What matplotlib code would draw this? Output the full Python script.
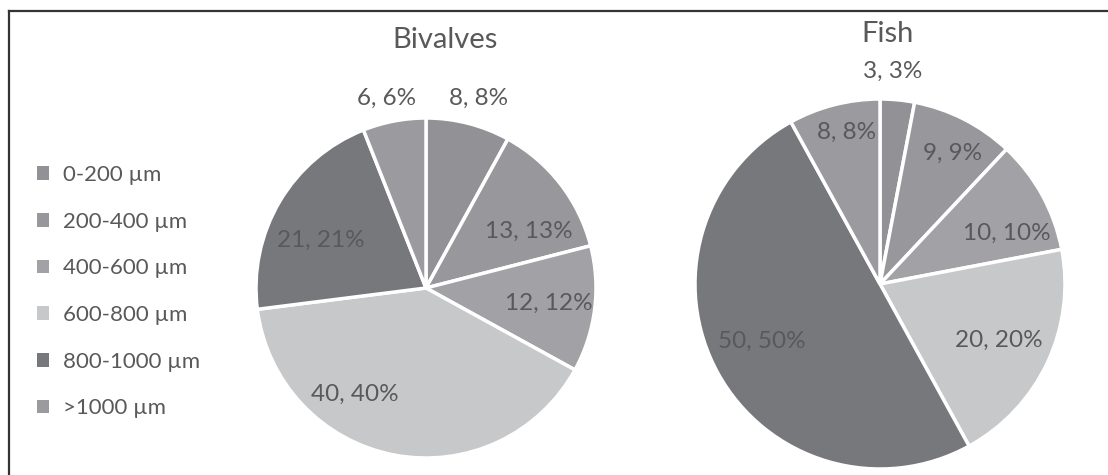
import numpy as np
import matplotlib.pyplot as plt
from matplotlib.lines import Line2D
from matplotlib.patches import Patch

plt.rcParams['font.family'] = ['Lato', 'DejaVu Sans']

# size classes and counts per group
size_classes = ['0-200 µm', '200-400 µm', '400-600 µm', '600-800 µm', '800-1000 µm', '>1000 µm']
bivalves = [8, 13, 12, 40, 21, 6]
fish = [3, 9, 10, 20, 50, 8]

colors = ['#929296', '#98989c', '#a2a2a6', '#c7c8ca', '#77787c', '#9b9b9f']
text_color = '#595959'

W, H = 1108, 475
fig = plt.figure(figsize=(W / 100, H / 100), dpi=100)

# frame lines along the top and left edge
fig.add_artist(Line2D([9 / W, 9 / W], [0, 1 - 11 / H], color='#333333', lw=1.6))
fig.add_artist(Line2D([9 / W, 1], [1 - 11 / H, 1 - 11 / H], color='#333333', lw=1.6))


def draw_pie(cx, cy, r, values, title, title_xy, label_r, label_da):
    ax = fig.add_axes([(cx - r) / W, 1 - (cy + r) / H, 2 * r / W, 2 * r / H])
    wedges, _ = ax.pie(values, colors=colors, startangle=90, counterclock=False,
                       wedgeprops=dict(edgecolor='white', linewidth=2.5))
    ax.set_xlim(-1, 1)
    ax.set_ylim(-1, 1)
    ax.set_aspect('equal')
    ax.axis('off')
    total = sum(values)
    # label each wedge at its middle angle, nudged by radius / angle offsets
    for w, v, lr, da in zip(wedges, values, label_r, label_da):
        ang = np.deg2rad((w.theta1 + w.theta2) / 2 + da)
        ax.text(lr * np.cos(ang), lr * np.sin(ang), f'{v}, {round(100 * v / total)}%',
                ha='center', va='center', fontsize=17.5, color=text_color, clip_on=False)
    fig.text(title_xy[0] / W, 1 - title_xy[1] / H, title, ha='center', va='center',
             fontsize=21, color=text_color)


draw_pie(426, 288, 170, bivalves, 'Bivalves', (445, 40),
         [1.16, 0.69, 0.73, 0.75, 0.68, 1.14], [-1, -9, 0, -23, 6, 1])
draw_pie(880, 284, 185, fish, 'Fish', (888, 34),
         [1.15, 0.81, 0.74, 0.71, 0.71, 0.84], [2, -2, -7, 0, -3, -2])

handles = [Patch(facecolor=c, edgecolor='none') for c in colors]
fig.legend(handles, size_classes, loc='upper left', bbox_to_anchor=(17 / W, 1 - 145 / H),
           frameon=False, fontsize=16, labelcolor=text_color, handlelength=0.55,
           handleheight=0.55, handletextpad=0.6, labelspacing=1.2)

fig.savefig('out.png', dpi=100, facecolor='white')
